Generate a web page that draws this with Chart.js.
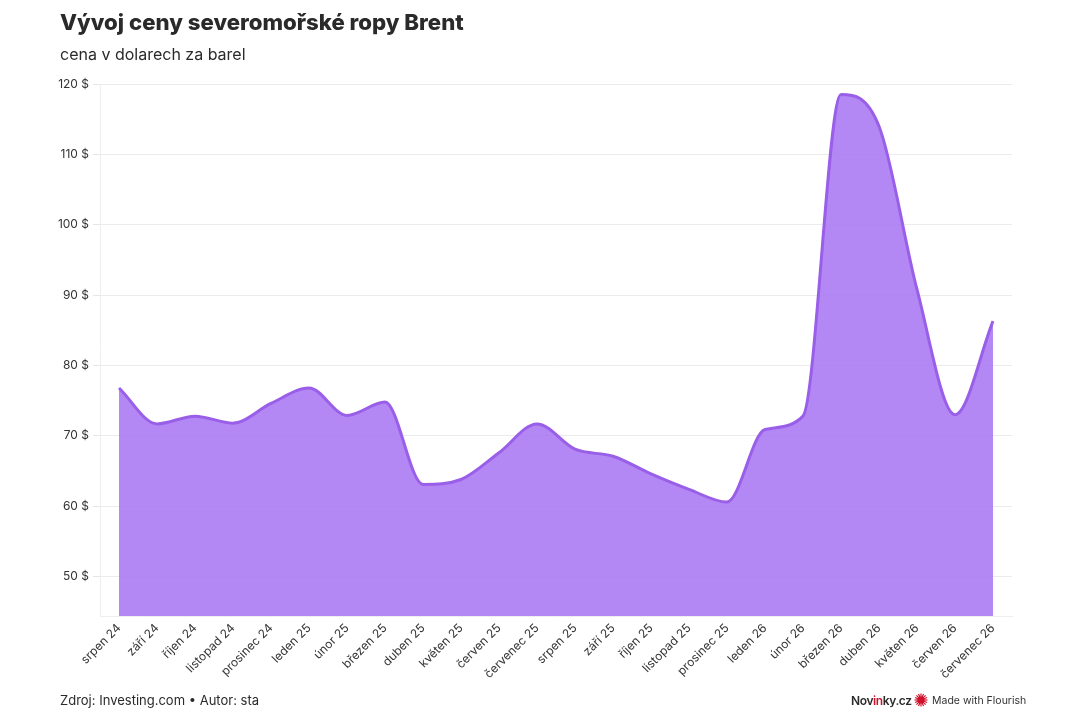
<!DOCTYPE html>
<html>
<head>
<meta charset="utf-8">
<script src="https://cdn.jsdelivr.net/npm/chart.js@4"></script>
<style>
  html, body { margin: 0; padding: 0; background: #fff; }
  body { width: 1080px; height: 720px; position: relative; overflow: hidden; font-family: Inter, "Noto Sans", sans-serif; color: #222; }
  #wrap { position: absolute; left: 0; top: 0; width: 1080px; height: 720px; }
  .title { position: absolute; left: 60px; top: 8px; font-size: 22.2px; font-weight: 800; color: #2a2a2a; letter-spacing: 0px; }
  .sub { position: absolute; left: 60px; top: 44px; font-size: 16px; color: #2a2a2a; }
  .foot { position: absolute; left: 60px; top: 692px; font-size: 13px; color: #2a2a2a; }
  .brand { position: absolute; left: 851px; top: 693px; font-size: 12px; font-weight: 600; color: #2a2a2a; letter-spacing: -0.4px; }
  .brand span { color: #d0102a; }
  .flourish { position: absolute; left: 914px; top: 692px; font-size: 10.5px; color: #333; display: flex; align-items: center; gap: 4px; height: 16px; }
</style>
</head>
<body>
<div id="wrap"><canvas id="c" width="1080" height="720"></canvas></div>
<div class="title">Vývoj ceny severomořské ropy Brent</div>
<div class="sub">cena v dolarech za barel</div>
<div class="foot">Zdroj: Investing.com • Autor: sta</div>
<div class="brand">Nov<span>in</span>ky.cz</div>
<div class="flourish">
  <svg width="14" height="14" viewBox="-7 -7 14 14">
    <g stroke="#d0102a" stroke-width="1.2">
      <line x1="0" y1="-6.5" x2="0" y2="6.5"/><line x1="-6.5" y1="0" x2="6.5" y2="0"/>
      <line x1="-4.6" y1="-4.6" x2="4.6" y2="4.6"/><line x1="-4.6" y1="4.6" x2="4.6" y2="-4.6"/>
      <line x1="-2.5" y1="-6" x2="2.5" y2="6"/><line x1="2.5" y1="-6" x2="-2.5" y2="6"/>
      <line x1="-6" y1="-2.5" x2="6" y2="2.5"/><line x1="-6" y1="2.5" x2="6" y2="-2.5"/>
    </g>
    <circle r="3.6" fill="#d0102a"/>
  </svg>
  <span>Made with Flourish</span>
</div>
<script>
const categories = ["srpen 24","září 24","říjen 24","listopad 24","prosinec 24","leden 25","únor 25","březen 25","duben 25","květen 25","červen 25","červenec 25","srpen 25","září 25","říjen 25","listopad 25","prosinec 25","leden 26","únor 26","březen 26","duben 26","květen 26","červen 26","červenec 26"];
const brentPrice = [76.8, 71.7, 72.8, 71.8, 74.6, 76.8, 72.9, 74.8, 63.1, 63.8, 67.6, 71.7, 68.1, 67.1, 64.6, 62.4, 60.6, 70.9, 72.8, 118.5, 114.0, 90.8, 73.0, 86.3];
const yTicks = [50, 60, 70, 80, 90, 100, 110, 120];

new Chart(document.getElementById('c'), {
  type: 'line',
  data: {
    labels: categories,
    datasets: [{
      data: brentPrice,
      borderColor: '#9a5fe8',
      backgroundColor: 'rgba(168,118,242,0.88)',
      borderWidth: 3,
      fill: 'start',
      pointRadius: 0,
      cubicInterpolationMode: 'monotone'
    }]
  },
  options: {
    responsive: false,
    animation: false,
    devicePixelRatio: 1,
    layout: { padding: { left: 0, right: 68, top: 84, bottom: 20 } },
    plugins: { legend: { display: false }, tooltip: { enabled: false } },
    scales: {
      x: {
        offset: true,
        grid: { display: false, drawTicks: false },
        border: { display: true, color: '#eeeeee' },
        ticks: {
          autoSkip: false, maxRotation: 45, minRotation: 45,
          padding: 5, color: '#333', font: { family: 'Inter', size: 12 }
        },
        afterFit: s => { s.height = 720 - 20 - 616; }
      },
      y: {
        min: 44.4, max: 120,
        afterBuildTicks: s => { s.ticks = yTicks.map(v => ({ value: v })); },
        grid: { color: '#ebebeb', tickLength: 7, tickColor: '#e6e6e6' },
        border: { display: true, color: '#eeeeee' },
        ticks: {
          padding: 4, color: '#333', font: { family: 'Inter', size: 12 },
          callback: v => v + ' $'
        },
        afterFit: s => { s.width = 100; }
      }
    }
  }
});
</script>
</body>
</html>
